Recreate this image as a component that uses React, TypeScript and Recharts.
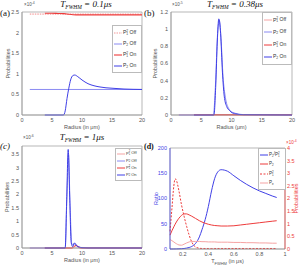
import { ReactNode } from "react";
import { Legend, Line, LineChart, ReferenceArea, XAxis, YAxis } from "recharts";

// (a) T_FWHM = 0.1 us, probabilities in 1e-4
const radiusA_p1Off = [1.3, 5, 10, 15, 20];
const probA_p1Off = [2.45, 2.45, 2.45, 2.45, 2.45];
const radiusA_p2Off = [1.3, 5, 10, 15, 20];
const probA_p2Off = [0.62, 0.62, 0.62, 0.62, 0.62];
const radiusA_p1On = [3.8, 5, 6, 7, 7.8, 8.5, 9.5, 12, 16, 20];
const probA_p1On = [2.47, 2.47, 2.465, 2.46, 2.445, 2.435, 2.43, 2.43, 2.43, 2.43];
const radiusA_p2On = [3.8, 5, 6.9, 7.2, 7.5, 7.8, 8.1, 8.5, 8.8, 9.3, 10, 11, 12, 13, 14, 15.5, 17, 20];
const probA_p2On = [0, 0, 0, 0.1, 0.4, 0.65, 0.85, 0.96, 0.97, 0.93, 0.85, 0.76, 0.71, 0.68, 0.66, 0.645, 0.63, 0.62];

// (b) T_FWHM = 0.38 us, probabilities in 1e-5
const radiusB_p1Off = [1.3, 20];
const probB_p1Off = [0.002, 0.002];
const radiusB_p2Off = [1.3, 7.0, 7.35, 7.7, 8.0, 8.3, 8.6, 9.0, 9.5, 10.2, 12, 20];
const probB_p2Off = [0, 0, 0.35, 0.95, 1.1, 0.85, 0.45, 0.2, 0.08, 0.03, 0.005, 0];
const radiusB_p1On = [3.8, 20];
const probB_p1On = [0.002, 0.002];
const radiusB_p2On = [3.8, 7.1, 7.4, 7.65, 7.9, 8.2, 8.5, 8.8, 9.2, 9.7, 10.5, 12, 20];
const probB_p2On = [0, 0, 0.35, 0.85, 1.12, 0.95, 0.5, 0.22, 0.1, 0.05, 0.015, 0.003, 0];

// (c) T_FWHM = 1 us, probabilities in 1e-6
const radiusC_p1Off = [1.3, 8.4, 8.8, 9.1, 9.5, 20];
const probC_p1Off = [0, 0, 0.05, 0.08, 0.02, 0];
const radiusC_p2Off = [1.3, 7.2, 7.5, 7.75, 8.0, 8.3, 8.6, 8.9, 9.3, 10, 20];
const probC_p2Off = [0, 0, 2.0, 3.5, 1.7, 0.15, 0.12, 0.17, 0.05, 0.01, 0];
const radiusC_p1On = [3.8, 8.3, 8.7, 9.0, 9.3, 9.7, 20];
const probC_p1On = [0, 0, 0.06, 0.1, 0.06, 0, 0];
const radiusC_p2On = [3.8, 7.2, 7.45, 7.7, 7.95, 8.2, 8.45, 8.7, 8.95, 9.2, 9.5, 10, 11, 20];
const probC_p2On = [0, 0, 1.8, 3.68, 1.9, 0.2, 0.05, 0.19, 0.12, 0.06, 0.04, 0.01, 0, 0];

// (d) vs T_FWHM (us); ratio on left axis, probabilities (1e-4) on right
const tfwhm = [0.1, 0.115, 0.13, 0.14, 0.15, 0.17, 0.19, 0.21, 0.23, 0.25, 0.27, 0.3, 0.33, 0.35, 0.375, 0.4, 0.425, 0.45, 0.475, 0.5, 0.55, 0.6, 0.65, 0.7, 0.75, 0.8, 0.85, 0.9, 0.935];
const ratioD = [0, 0, 0.1, 0.1, 0.2, 0.4, 0.6, 1, 1.8, 3, 5, 11, 24, 38, 58, 84, 115, 140, 153, 157, 154, 145, 136, 128, 121, 115, 110, 105, 102];
const p2D = [0.55, 0.72, 0.88, 0.98, 1.07, 1.22, 1.33, 1.39, 1.39, 1.35, 1.3, 1.21, 1.12, 1.07, 1.02, 0.98, 0.95, 0.93, 0.92, 0.91, 0.91, 0.92, 0.95, 0.98, 1.01, 1.04, 1.07, 1.1, 1.12];
const p1D = [0.7, 1.6, 2.5, 2.78, 2.72, 2.3, 1.75, 1.3, 0.9, 0.55, 0.28, 0.08, 0.03, 0.02, 0.02, 0.02, 0.02, 0.02, 0.02, 0.02, 0.02, 0.02, 0.02, 0.02, 0.02, 0.02, 0.02, 0.02, 0.02];
const peD = [0.38, 0.33, 0.28, 0.24, 0.21, 0.16, 0.15, 0.19, 0.24, 0.28, 0.3, 0.3, 0.3, 0.29, 0.29, 0.28, 0.28, 0.28, 0.27, 0.27, 0.27, 0.26, 0.26, 0.25, 0.25, 0.24, 0.24, 0.23, 0.23];

const radiusTicks = [0, 5, 10, 15, 20];
const ticksA = [0, 0.5, 1, 1.5, 2, 2.5];
const ticksB = [0, 0.2, 0.4, 0.6, 0.8, 1, 1.2];
const ticksC = [0, 0.5, 1, 1.5, 2, 2.5, 3, 3.5];
const ticksDx = [0.2, 0.4, 0.6, 0.8, 1];
const ticksDRatio = [0, 50, 100, 150, 200];
const ticksDProb = [0, 0.5, 1, 1.5, 2, 2.5, 3, 3.5, 4];

const sans = '"Liberation Sans", Arial, sans-serif';
const serif = '"Liberation Serif", "DejaVu Serif", serif';
const RED = "#ee3b3b";
const PINK = "#f5a3a3";
const LIGHTPINK = "#f8bcbc";
const BLUE = "#3f3fe6";
const LIGHTBLUE = "#8a8af2";
const AXIS = "#9a9a9a";
const TXT = "#555";

const zip = (xs: number[], ys: number[]) => xs.map((x, i) => ({ x, y: ys[i] }));

const Sym = ({ sub, sup }: { sub: string; sup?: string }) => (
  <span style={{ display: "inline-flex", alignItems: "center" }}>
    P
    <span style={{ display: "inline-flex", flexDirection: "column", fontSize: "0.65em", lineHeight: 0.9 }}>
      <span>{sup ?? "\u00a0"}</span>
      <span>{sub}</span>
    </span>
  </span>
);

interface Series {
  key: string;
  points: { x: number; y: number }[];
  color: string;
  width: number;
  dash?: string;
  label: ReactNode;
  axis?: string;
}

const LegendBox = ({ items, w, h, fs }: { items: Series[]; w: number; h: number; fs: number }) => (
  <div
    style={{
      width: w,
      height: h,
      boxSizing: "border-box",
      border: "0.7px solid #bbb",
      background: "#fff",
      display: "flex",
      flexDirection: "column",
      justifyContent: "space-around",
      padding: "1px 0 1px 1px",
    }}
  >
    {items.map((s) => (
      <div key={s.key} style={{ display: "flex", alignItems: "center", fontSize: fs, fontFamily: sans, color: "#333", lineHeight: 1, whiteSpace: "nowrap" }}>
        <svg width={8} height={4} style={{ flexShrink: 0 }}>
          <line x1={0} y1={2} x2={8} y2={2} stroke={s.color} strokeWidth={Math.min(s.width, 1.4)} strokeDasharray={s.dash} />
        </svg>
        <span style={{ marginLeft: 1 }}>{s.label}</span>
      </div>
    ))}
  </div>
);

const offOnLabels = [
  <><Sym sub="1" sup="2" /> Off</>,
  <><Sym sub="2" /> Off</>,
  <><Sym sub="1" sup="2" /> On</>,
  <><Sym sub="2" /> On</>,
];

const seriesA: Series[] = [
  { key: "p1off", points: zip(radiusA_p1Off, probA_p1Off), color: LIGHTPINK, width: 1.8, dash: "1.5 1", label: offOnLabels[0] },
  { key: "p2off", points: zip(radiusA_p2Off, probA_p2Off), color: LIGHTBLUE, width: 1, label: offOnLabels[1] },
  { key: "p1on", points: zip(radiusA_p1On, probA_p1On), color: RED, width: 1.1, label: offOnLabels[2] },
  { key: "p2on", points: zip(radiusA_p2On, probA_p2On), color: BLUE, width: 1, label: offOnLabels[3] },
];
const seriesB: Series[] = [
  { key: "p1off", points: zip(radiusB_p1Off, probB_p1Off), color: PINK, width: 1, label: offOnLabels[0] },
  { key: "p2off", points: zip(radiusB_p2Off, probB_p2Off), color: LIGHTBLUE, width: 1, label: offOnLabels[1] },
  { key: "p1on", points: zip(radiusB_p1On, probB_p1On), color: RED, width: 1, label: offOnLabels[2] },
  { key: "p2on", points: zip(radiusB_p2On, probB_p2On), color: BLUE, width: 1, label: offOnLabels[3] },
];
const seriesC: Series[] = [
  { key: "p1off", points: zip(radiusC_p1Off, probC_p1Off), color: PINK, width: 1, label: offOnLabels[0] },
  { key: "p2off", points: zip(radiusC_p2Off, probC_p2Off), color: LIGHTBLUE, width: 1, label: offOnLabels[1] },
  { key: "p1on", points: zip(radiusC_p1On, probC_p1On), color: RED, width: 1, label: offOnLabels[2] },
  { key: "p2on", points: zip(radiusC_p2On, probC_p2On), color: BLUE, width: 1, label: offOnLabels[3] },
];
const seriesD: Series[] = [
  { key: "ratio", points: zip(tfwhm, ratioD), color: BLUE, width: 1, axis: "ratio", label: <><Sym sub="2" />/<Sym sub="1" sup="2" /></> },
  { key: "p2", points: zip(tfwhm, p2D), color: RED, width: 1, axis: "prob", label: <Sym sub="2" /> },
  { key: "p1", points: zip(tfwhm, p1D), color: RED, width: 1, dash: "2 1.5", axis: "prob", label: <Sym sub="1" sup="2" /> },
  { key: "pe", points: zip(tfwhm, peD), color: PINK, width: 1, axis: "prob", label: <Sym sub="e" /> },
];

const tick = { fontSize: 5.5, fill: TXT, fontFamily: sans };
const labelStyle = { fontSize: 5.5, fill: TXT, fontFamily: sans };

interface PanelProps {
  left: number;
  top: number;
  width: number;
  marginTop: number;
  marginRight: number;
  yWidth: number;
  yLabelOffset: number;
  yMax: number;
  yTicks: number[];
  series: Series[];
  xLabel: string;
  legend: { left: number; top: number; w: number; h: number; fs: number };
}

const RadiusPanel = ({ p }: { p: PanelProps }) => (
  <div style={{ position: "absolute", left: p.left, top: p.top }}>
    <LineChart width={p.width} height={133} margin={{ top: p.marginTop, right: p.marginRight, bottom: 0, left: 0 }}>
      <XAxis
        type="number"
        dataKey="x"
        domain={[0, 20]}
        ticks={radiusTicks}
        height={18}
        tickSize={0}
        tickMargin={3}
        tick={tick}
        axisLine={{ stroke: AXIS, strokeWidth: 0.7 }}
        label={{ value: p.xLabel, position: "insideBottom", offset: 4.5, style: labelStyle }}
      />
      <YAxis
        type="number"
        domain={[0, p.yMax]}
        ticks={p.yTicks}
        width={p.yWidth}
        tickSize={0}
        tickMargin={3}
        tick={tick}
        axisLine={{ stroke: AXIS, strokeWidth: 0.7 }}
        label={{ value: "Probabilities", angle: -90, position: "insideLeft", offset: p.yLabelOffset, style: { ...labelStyle, textAnchor: "middle" } }}
      />
      <ReferenceArea x1={0} x2={20} y1={0} y2={p.yMax} fill="none" stroke={AXIS} strokeWidth={0.7} />
      {p.series.map((s) => (
        <Line
          key={s.key}
          data={s.points}
          dataKey="y"
          type="monotone"
          stroke={s.color}
          strokeWidth={s.width}
          strokeDasharray={s.dash}
          dot={false}
          isAnimationActive={false}
        />
      ))}
      <Legend
        layout="vertical"
        align="center"
        verticalAlign="middle"
        wrapperStyle={{ left: p.legend.left, top: p.legend.top, width: p.legend.w, height: p.legend.h }}
        content={() => <LegendBox items={p.series} w={p.legend.w} h={p.legend.h} fs={p.legend.fs} />}
      />
    </LineChart>
  </div>
);

const TfwhmLabel = (props: any) => {
  const { x, y, width } = props.viewBox;
  return (
    <text x={x + width / 2} y={y + 14} textAnchor="middle" fontSize={5.5} fontFamily={sans} fill={TXT}>
      T<tspan fontSize={4} dy={1.5}>FWHM</tspan>
      <tspan dy={-1.5}> (in μs)</tspan>
    </text>
  );
};

const Overlay = ({ x, y, center, children, style }: { x: number; y: number; center?: boolean; children: ReactNode; style?: React.CSSProperties }) => (
  <div
    style={{
      position: "absolute",
      left: x,
      top: y,
      transform: center ? "translateX(-50%)" : undefined,
      whiteSpace: "nowrap",
      lineHeight: 1,
      ...style,
    }}
  >
    {children}
  </div>
);

const Title = ({ x, y, value }: { x: number; y: number; value: string }) => (
  <Overlay x={x} y={y} center style={{ fontFamily: serif, fontStyle: "italic", fontSize: 9, color: "#111" }}>
    T<sub style={{ fontSize: 5.5, verticalAlign: "-1.5px" }}>FWHM</sub> = {value}μs
  </Overlay>
);

const Exp = ({ x, y, e, color }: { x: number; y: number; e: string; color?: string }) => (
  <Overlay x={x} y={y} style={{ fontFamily: sans, fontSize: 4.5, color: color ?? TXT }}>
    ×10<sup style={{ fontSize: 3.5, verticalAlign: "2px" }}>{e}</sup>
  </Overlay>
);

const letter = { fontFamily: serif, fontSize: 9, color: "#111" };

export default function App() {
  return (
    <div style={{ position: "absolute", left: 0, top: 0, width: 299, height: 266, background: "#fff", overflow: "hidden" }}>
      <RadiusPanel
        p={{ left: 0, top: 0, width: 150, marginTop: 12, marginRight: 8, yWidth: 22, yLabelOffset: 8, yMax: 2.5, yTicks: ticksA, series: seriesA, xLabel: "Radius (in μm)", legend: { left: 112, top: 25, w: 30, h: 48, fs: 5 } }}
      />
      <RadiusPanel
        p={{ left: 150, top: 0, width: 149, marginTop: 12, marginRight: 7, yWidth: 21, yLabelOffset: 5, yMax: 1.2, yTicks: ticksB, series: seriesB, xLabel: "Radius (μm)", legend: { left: 112, top: 12, w: 30, h: 53, fs: 5 } }}
      />
      <RadiusPanel
        p={{ left: 0, top: 133, width: 150, marginTop: 13, marginRight: 8, yWidth: 22, yLabelOffset: 7, yMax: 3.81, yTicks: ticksC, series: seriesC, xLabel: "Radius (in μm)", legend: { left: 115, top: 15, w: 27, h: 33, fs: 4 } }}
      />

      <div style={{ position: "absolute", left: 150, top: 133 }}>
        <LineChart width={149} height={133} margin={{ top: 15, right: 0, bottom: 0, left: 0 }}>
          <XAxis
            type="number"
            dataKey="x"
            domain={[0.1, 1]}
            ticks={ticksDx}
            height={17}
            tickSize={0}
            tickMargin={3}
            tick={tick}
            axisLine={{ stroke: AXIS, strokeWidth: 0.7 }}
            label={{ content: TfwhmLabel }}
          />
          <YAxis
            yAxisId="ratio"
            type="number"
            domain={[0, 200]}
            ticks={ticksDRatio}
            width={20}
            tickSize={0}
            tickMargin={3}
            tick={{ ...tick, fill: BLUE }}
            axisLine={{ stroke: BLUE, strokeWidth: 0.7 }}
            label={{ value: "Ratio", angle: -90, position: "insideLeft", offset: 6, style: { ...labelStyle, fill: BLUE, textAnchor: "middle" } }}
          />
          <YAxis
            yAxisId="prob"
            orientation="right"
            type="number"
            domain={[0, 4]}
            ticks={ticksDProb}
            width={14}
            tickSize={0}
            tickMargin={2}
            tick={{ ...tick, fill: RED }}
            axisLine={{ stroke: RED, strokeWidth: 0.7 }}
            label={{ value: "Probabilities", angle: -90, position: "insideRight", offset: 3, style: { ...labelStyle, fill: RED, textAnchor: "middle" } }}
          />
          <ReferenceArea yAxisId="ratio" x1={0.1} x2={1} y1={0} y2={200} fill="none" stroke={AXIS} strokeWidth={0.7} />
          {seriesD.map((s) => (
            <Line
              key={s.key}
              yAxisId={s.axis}
              data={s.points}
              dataKey="y"
              type="monotone"
              stroke={s.color}
              strokeWidth={s.width}
              strokeDasharray={s.dash}
              dot={false}
              isAnimationActive={false}
            />
          ))}
          <Legend
            layout="vertical"
            align="center"
            verticalAlign="middle"
            wrapperStyle={{ left: 108, top: 15, width: 28, height: 42 }}
            content={() => <LegendBox items={seriesD} w={28} h={42} fs={4.5} />}
          />
        </LineChart>
      </div>

      <Title x={86} y={0} value="0.1" />
      <Title x={235} y={0} value="0.38" />
      <Title x={82} y={133} value="1" />

      <Overlay x={0} y={9} style={letter}>(a)</Overlay>
      <Overlay x={144} y={9} style={letter}>(b)</Overlay>
      <Overlay x={0} y={142} style={{ ...letter, fontStyle: "italic" }}>(c)</Overlay>
      <Overlay x={144} y={143} style={{ ...letter, fontWeight: "bold", fontSize: 8 }}>(d)</Overlay>

      <Exp x={24} y={2} e="-4" />
      <Exp x={172} y={2} e="-5" />
      <Exp x={23} y={135} e="-6" />
      <Exp x={286} y={140} e="-4" color={RED} />
    </div>
  );
}
